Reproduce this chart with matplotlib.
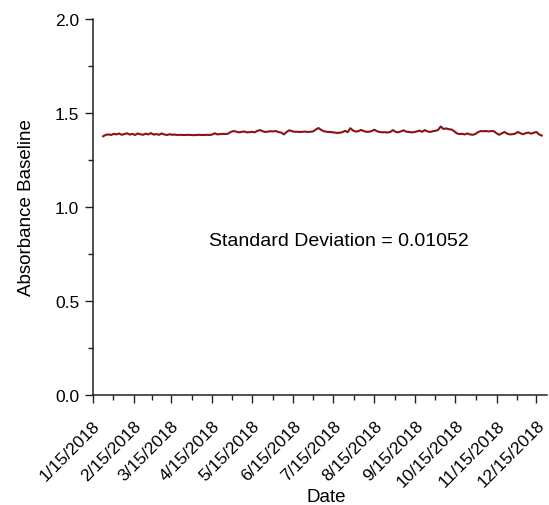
import datetime as dt
import numpy as np
import matplotlib
matplotlib.use('Agg')
import matplotlib.pyplot as plt
import matplotlib.dates as mdates
from matplotlib.ticker import MultipleLocator, FixedLocator, FormatStrFormatter

plt.rcParams['font.family'] = ['Liberation Sans', 'DejaVu Sans']

# Baseline readings, one every 2 days starting 1/23/2018
start = dt.date(2018, 1, 23)
step_days = 2
baseline = [
    1.376, 1.384, 1.386, 1.383, 1.389, 1.386, 1.391, 1.384, 1.388, 1.392,
    1.385, 1.389, 1.383, 1.391, 1.387, 1.384, 1.390, 1.386, 1.393, 1.385,
    1.388, 1.384, 1.391, 1.386, 1.383, 1.387, 1.384, 1.385, 1.383, 1.384,
    1.383, 1.383, 1.384, 1.383, 1.382, 1.383, 1.384, 1.383, 1.383, 1.384,
    1.383, 1.385, 1.392, 1.386, 1.388, 1.389, 1.388, 1.390, 1.399, 1.404,
    1.401, 1.397, 1.399, 1.402, 1.397, 1.398, 1.400, 1.397, 1.405, 1.409,
    1.403, 1.399, 1.401, 1.403, 1.402, 1.404, 1.398, 1.396, 1.386, 1.399,
    1.408, 1.403, 1.400, 1.400, 1.399, 1.400, 1.401, 1.399, 1.400, 1.402,
    1.412, 1.420, 1.410, 1.403, 1.400, 1.399, 1.398, 1.396, 1.394, 1.395,
    1.398, 1.405, 1.398, 1.419, 1.407, 1.401, 1.403, 1.410, 1.404, 1.400,
    1.400, 1.404, 1.411, 1.403, 1.399, 1.397, 1.398, 1.396, 1.399, 1.409,
    1.400, 1.397, 1.402, 1.408, 1.401, 1.399, 1.397, 1.398, 1.402, 1.406,
    1.400, 1.409, 1.402, 1.399, 1.403, 1.405, 1.410, 1.428, 1.415, 1.418,
    1.414, 1.412, 1.404, 1.392, 1.388, 1.389, 1.386, 1.391, 1.386, 1.384,
    1.388, 1.398, 1.404, 1.403, 1.404, 1.402, 1.404, 1.403, 1.392, 1.384,
    1.392, 1.399, 1.390, 1.386, 1.387, 1.390, 1.399, 1.392, 1.387, 1.393,
    1.396, 1.390, 1.395, 1.399, 1.386, 1.380,
]
dates = [start + dt.timedelta(days=step_days * i) for i in range(len(baseline))]

tick_dates = [dt.date(2018, m, 15) for m in range(1, 13)]
tick_labels = [d.strftime('%-m/%-d/%Y') for d in tick_dates]
std_text = 'Standard Deviation = 0.01052'

fig = plt.figure(figsize=(5.49, 5.06), dpi=100)
ax = fig.add_axes([0.1685, 0.2174, 0.828, 0.7431])

ax.plot(dates, baseline, color='#8b1212', lw=1.5)

ax.set_xlim(dt.date(2018, 1, 15), dt.date(2018, 12, 23))
ax.set_ylim(0, 2.0)

# x ticks: every 15th, minor in between
nums = mdates.date2num(tick_dates)
ax.xaxis.set_major_locator(FixedLocator(nums))
ax.set_xticklabels(tick_labels, rotation=45, ha='right', rotation_mode='anchor', fontsize=12.5)
ax.xaxis.set_minor_locator(FixedLocator((nums[:-1] + nums[1:]) / 2))

ax.yaxis.set_major_locator(MultipleLocator(0.5))
ax.yaxis.set_minor_locator(MultipleLocator(0.25))
ax.yaxis.set_major_formatter(FormatStrFormatter('%.1f'))
ax.tick_params(axis='y', labelsize=12.5, pad=4)

ax.tick_params(which='major', direction='out', length=5.5, width=1, color='#222222')
ax.tick_params(which='minor', direction='out', length=3.5, width=1, color='#222222')
ax.tick_params(axis='x', which='major', pad=10.5)

for s in ['top', 'right']:
    ax.spines[s].set_visible(False)
for s in ['left', 'bottom']:
    ax.spines[s].set_linewidth(1.1)
    ax.spines[s].set_color('#222222')

ax.set_xlabel('Date', fontsize=13.5, va='center')
ax.xaxis.set_label_coords(0.514, -0.269)
ax.set_ylabel('Absorbance Baseline', fontsize=13.5, labelpad=14)

ax.text(mdates.date2num(dt.date(2018, 7, 19)), 0.82, std_text,
        fontsize=14, ha='center', va='center')

plt.savefig('out.png', dpi=100)
